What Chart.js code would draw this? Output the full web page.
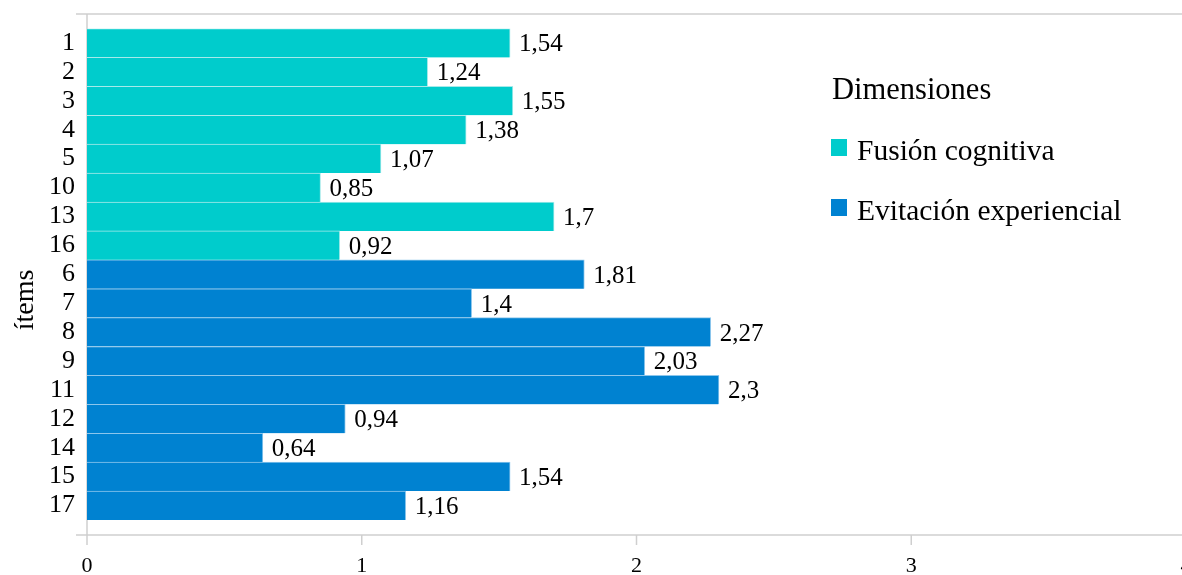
<!DOCTYPE html>
<html>
<head>
<meta charset="utf-8">
<script src="https://cdn.jsdelivr.net/npm/chart.js@4.4.0/dist/chart.umd.min.js"></script>
<style>
  html, body { margin: 0; padding: 0; background: #ffffff; overflow: hidden; }
  #wrap { width: 1182px; height: 575px; position: relative; overflow: hidden; }
  #c { display: block; }
</style>
</head>
<body>
<div id="wrap"><canvas id="c" width="1186" height="575"></canvas></div>
<script>
// Item order as listed on the vertical axis
const items = ['1', '2', '3', '4', '5', '10', '13', '16', '6', '7', '8', '9', '11', '12', '14', '15', '17'];

// Mean scores per item, split by dimension
const fusionValues    = [1.54, 1.24, 1.55, 1.38, 1.07, 0.85, 1.7, 0.92, null, null, null, null, null, null, null, null, null];
const evitacionValues = [null, null, null, null, null, null, null, null, 1.81, 1.4, 2.27, 2.03, 2.3, 0.94, 0.64, 1.54, 1.16];

const seriesNames = ['Fusión cognitiva', 'Evitación experiencial'];
const seriesColors = ['#00CCCC', '#0082D1'];
const seriesEdges = ['#a6eaea', '#8cc6ec'];
const xTickValues = [0, 1, 2, 3, 4];
const legendTitle = 'Dimensiones';
const axisTitle = 'ítems';

const SERIF = '"Liberation Serif", "Times New Roman", serif';

// Light frame: top rule, baseline, vertical axis and tick marks
const framePlugin = {
  id: 'frame',
  beforeDatasetsDraw(chart) {
    const { ctx, chartArea } = chart;
    const xs = chart.scales.x;
    const x0 = xs.getPixelForValue(0);
    const topY = chartArea.top - 14.5;
    const bottomY = chartArea.bottom + 15;
    ctx.save();
    ctx.strokeStyle = '#cfcfcf';
    ctx.lineWidth = 1.5;
    ctx.beginPath();
    ctx.moveTo(x0 - 11, topY); ctx.lineTo(chart.width, topY);
    ctx.moveTo(x0 - 11, bottomY); ctx.lineTo(chart.width, bottomY);
    ctx.moveTo(x0, topY); ctx.lineTo(x0, bottomY + 10);
    xTickValues.forEach(v => {
      const px = xs.getPixelForValue(v);
      ctx.moveTo(px, bottomY); ctx.lineTo(px, bottomY + 10);
    });
    ctx.stroke();
    ctx.restore();
  }
};

// Value labels at the end of each bar, decimal comma
const valueLabelPlugin = {
  id: 'valueLabels',
  afterDatasetsDraw(chart) {
    const { ctx } = chart;
    ctx.save();
    ctx.font = '25px ' + SERIF;
    ctx.fillStyle = '#000000';
    ctx.textAlign = 'left';
    ctx.textBaseline = 'alphabetic';
    chart.data.datasets.forEach((ds, di) => {
      const meta = chart.getDatasetMeta(di);
      meta.data.forEach((el, i) => {
        const v = ds.data[i];
        if (v === null || v === undefined) return;
        ctx.fillText(String(v).replace('.', ','), el.x + 9, el.y + 8.5);
      });
    });
    ctx.restore();
  }
};

// Legend block with title, drawn over the plot area on the right
const legendPlugin = {
  id: 'sideLegend',
  afterDraw(chart) {
    const { ctx } = chart;
    ctx.save();
    ctx.fillStyle = '#000000';
    ctx.textAlign = 'left';
    ctx.textBaseline = 'alphabetic';
    ctx.font = '30.5px ' + SERIF;
    ctx.fillText(legendTitle, 832, 99);
    ctx.font = '29.5px ' + SERIF;
    const baselines = [160, 220];
    chart.data.datasets.forEach((ds, di) => {
      const b = baselines[di];
      ctx.fillStyle = ds.backgroundColor;
      ctx.fillRect(831, b - 21, 16, 17);
      ctx.fillStyle = '#000000';
      ctx.fillText(ds.label, 857, b);
    });
    ctx.restore();
  }
};

// Rotated vertical-axis title
const axisTitlePlugin = {
  id: 'axisTitle',
  afterDraw(chart) {
    const { ctx } = chart;
    ctx.save();
    ctx.translate(33, 300);
    ctx.rotate(-Math.PI / 2);
    ctx.font = '28px ' + SERIF;
    ctx.fillStyle = '#000000';
    ctx.textAlign = 'center';
    ctx.textBaseline = 'alphabetic';
    ctx.fillText(axisTitle, 0, 0);
    ctx.restore();
  }
};

new Chart(document.getElementById('c'), {
  type: 'bar',
  data: {
    labels: items,
    datasets: [
      {
        label: seriesNames[0],
        data: fusionValues,
        backgroundColor: seriesColors[0],
        borderColor: seriesEdges[0],
        borderWidth: { top: 1, right: 1, bottom: 0, left: 0 },
        borderSkipped: false,
        barPercentage: 1,
        categoryPercentage: 1
      },
      {
        label: seriesNames[1],
        data: evitacionValues,
        backgroundColor: seriesColors[1],
        borderColor: seriesEdges[1],
        borderWidth: { top: 1, right: 1, bottom: 0, left: 0 },
        borderSkipped: false,
        barPercentage: 1,
        categoryPercentage: 1
      }
    ]
  },
  options: {
    indexAxis: 'y',
    responsive: false,
    devicePixelRatio: 1,
    animation: false,
    layout: { padding: { top: 28.5, right: 0, bottom: 0, left: 0 } },
    plugins: {
      legend: { display: false },
      tooltip: { enabled: false }
    },
    scales: {
      x: {
        type: 'linear',
        stacked: true,
        min: 0,
        max: 4,
        grid: { display: false, drawTicks: false },
        border: { display: false },
        ticks: {
          stepSize: 1,
          padding: 33,
          color: '#000000',
          font: { family: SERIF, size: 22 },
          callback: v => String(v)
        },
        afterFit(scale) {
          scale.paddingLeft = 0;
          scale.paddingRight = 0;
          scale.height = 55;
        }
      },
      y: {
        type: 'category',
        stacked: true,
        offset: true,
        grid: { display: false, drawTicks: false },
        border: { display: false },
        ticks: {
          padding: 12,
          color: '#000000',
          font: { family: SERIF, size: 26 },
          autoSkip: false
        },
        afterFit(scale) {
          scale.width = 87;
        }
      }
    }
  },
  plugins: [framePlugin, valueLabelPlugin, legendPlugin, axisTitlePlugin]
});
</script>
</body>
</html>
